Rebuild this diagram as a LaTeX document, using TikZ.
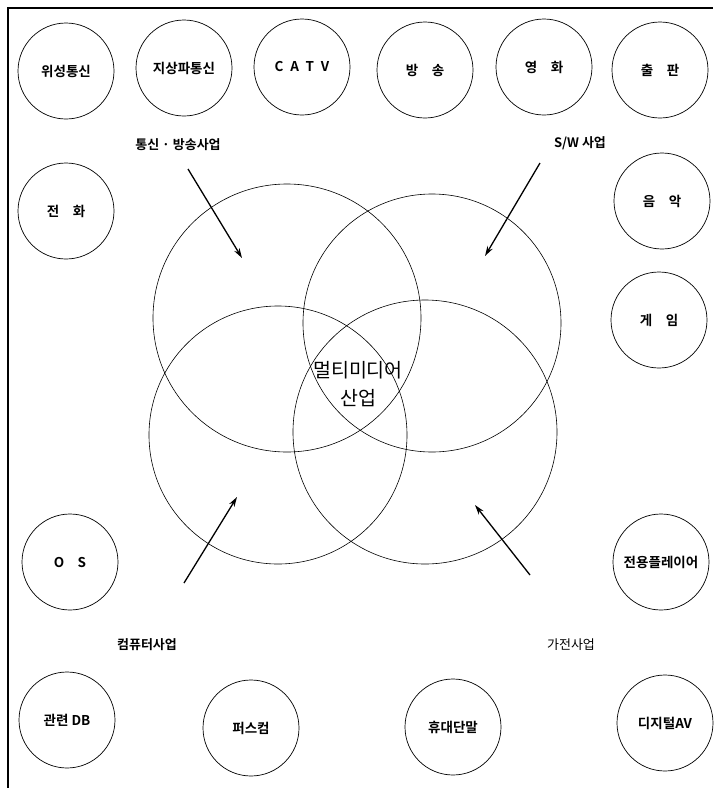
\documentclass[tikz,border=0pt]{standalone}
\usepackage{fontspec}
\setmainfont{Noto Sans CJK KR}[BoldFont={Noto Sans CJK KR Bold}]
\usetikzlibrary{arrows.meta}

\begin{document}
\begin{tikzpicture}[
    x=1pt, y=-1pt,
    smallcirc/.style={draw, circle, minimum size=96pt, inner sep=0pt, line width=0.7pt, font=\fontsize{13.5}{15}\selectfont\bfseries},
    bigcirc/.style={draw, circle, inner sep=0pt, line width=0.6pt},
    sector/.style={font=\fontsize{13}{15}\selectfont\bfseries},
    arr/.style={-{Stealth[length=10pt,width=6pt]}, line width=1.3pt}
]
\useasboundingbox (0,0) rectangle (713,788);

% Frame
\draw[line width=1.2pt] (8,788) -- (8,8) -- (713,8);

% Top row
\node (sat) [smallcirc] at (66,71) {위성통신};
\node (terr) [smallcirc] at (184,68) {지상파통신};
\node (catv) [smallcirc] at (302,67) {C\enspace A\enspace T\enspace V};
\node (bcast) [smallcirc] at (425,70) {방\quad 송};
\node (film) [smallcirc] at (544,67) {영\quad 화};
\node (pub) [smallcirc] at (660,70) {출\quad 판};

% Sides
\node (tel) [smallcirc] at (66,211) {전\quad 화};
\node (music) [smallcirc] at (662,201) {음\quad 악};
\node (game) [smallcirc] at (659,320) {게\quad 임};
\node (os) [smallcirc] at (70,562) {O\quad S};
\node (player) [smallcirc] at (661,562) {전용플레이어};

% Bottom row
\node (db) [smallcirc] at (67,720) {관련 DB};
\node (pc) [smallcirc] at (251,728) {퍼스컴};
\node (mobile) [smallcirc] at (453,727) {휴대단말};
\node (dav) [smallcirc] at (665,723) {디지털AV};

% Four industries
\node (comm) [bigcirc, minimum size=268pt] at (287,318) {};
\node (sw) [bigcirc, minimum size=258pt] at (432,323) {};
\node (comp) [bigcirc, minimum size=258pt] at (278,435) {};
\node (elec) [bigcirc, minimum size=264pt] at (425,432) {};
\node (mm) [align=center, font=\fontsize{19.5}{28}\selectfont] at (358,384) {멀티미디어\\산업};

% Sector labels
\node (commlbl) [sector] at (178,145) {통신 · 방송사업};
\node (swlbl) [sector] at (580,143) {S/W 사업};
\node (complbl) [sector] at (147,645) {컴퓨터사업};
\node (eleclbl) [sector, font=\fontsize{13}{15}\selectfont] at (571,645) {가전사업};

% Arrows
\coordinate (commA) at (188,169);
\coordinate (commB) at (242,258);
\coordinate (swA) at (540,163);
\coordinate (swB) at (485,256);
\coordinate (compA) at (184,583);
\coordinate (compB) at (237,497);
\coordinate (elecA) at (530,575);
\coordinate (elecB) at (475,505);
\draw[arr] (commA) -- (commB);
\draw[arr] (swA) -- (swB);
\draw[arr] (compA) -- (compB);
\draw[arr] (elecA) -- (elecB);

\end{tikzpicture}
\end{document}
